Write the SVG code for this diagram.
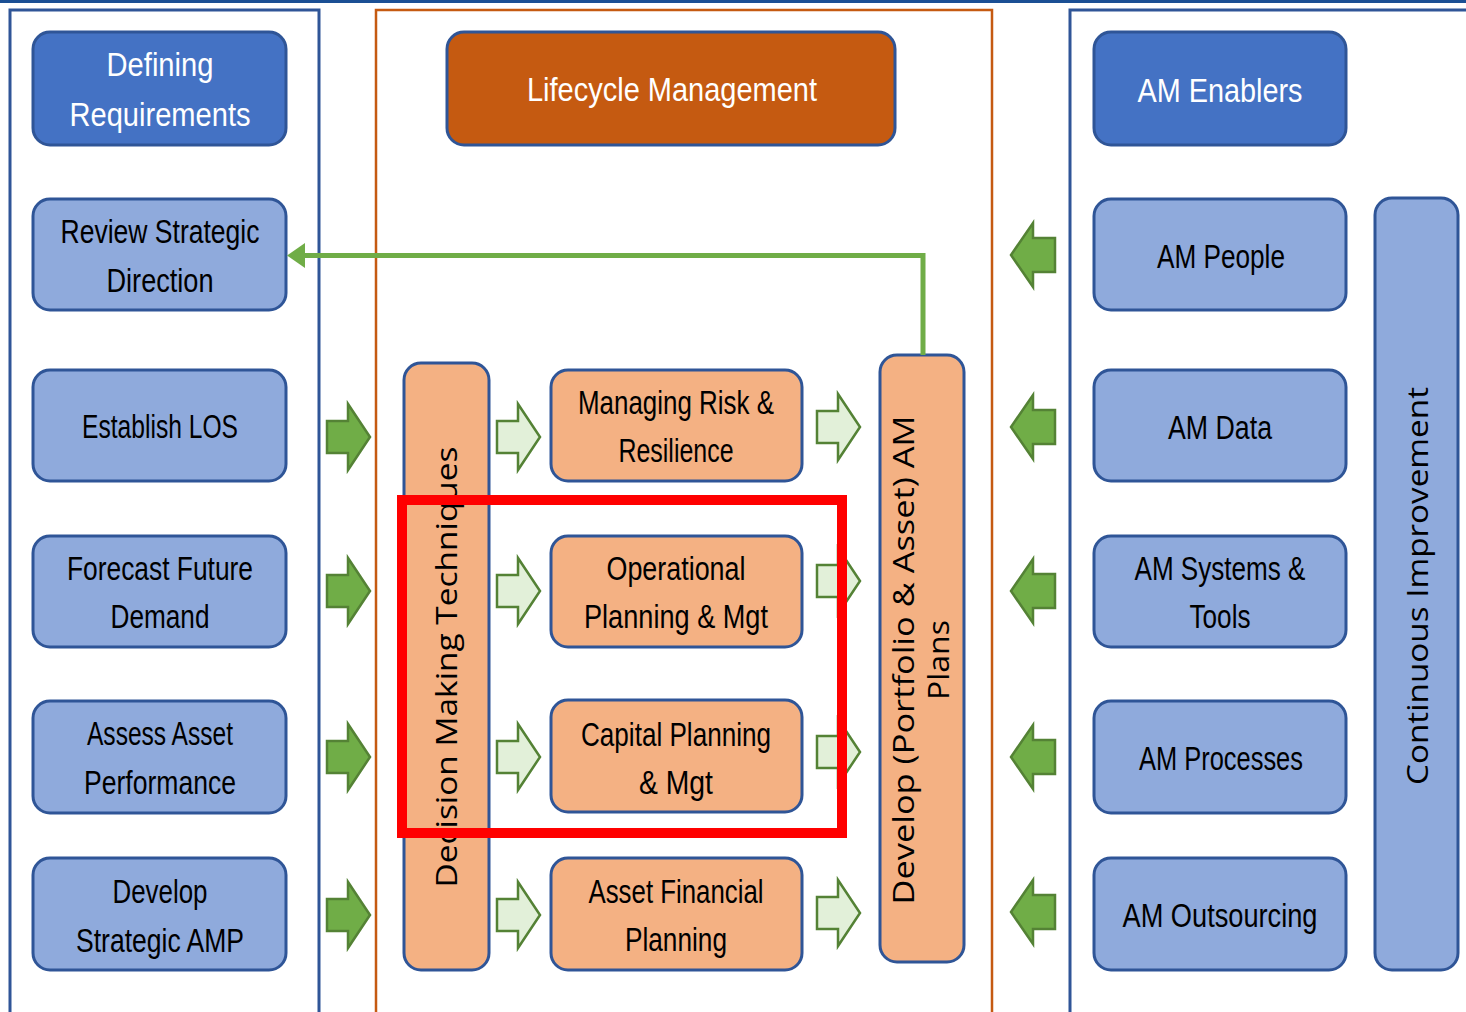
<svg xmlns="http://www.w3.org/2000/svg" width="1466" height="1012" viewBox="0 0 1466 1012">
<style>
.panelB{fill:none;stroke:#2F5597;stroke-width:3}
.panelO{fill:none;stroke:#C55A11;stroke-width:2.5}
.hdr{fill:#4472C4;stroke:#2F5597;stroke-width:3}
.lb{fill:#8FAADC;stroke:#2F5597;stroke-width:3}
.or{fill:#F4B183;stroke:#2F5597;stroke-width:3}
.dor{fill:#C55A11;stroke:#2F5597;stroke-width:3}
.t{font-family:"Liberation Sans",Arial,sans-serif;font-size:34px;text-anchor:middle;fill:#000}
.tw{fill:#fff}
.v{font-family:"Open Sans","Liberation Sans",sans-serif;font-size:30px;text-anchor:middle;fill:#000}
.ga{fill:#70AD47;stroke:#548235;stroke-width:2.5;stroke-linejoin:miter}
.la{fill:#E2F0D9;stroke:#548235;stroke-width:2.5;stroke-linejoin:miter}
</style>
<defs>
<path id="arR" d="M0,-16 H21 V-33 L43,0 L21,33 V16 H0 Z"/>
<path id="arL" d="M0,-17 H-22 V-32 L-44,0 L-22,32 V17 H0 Z"/>
</defs>
<rect x="0" y="0" width="1466" height="1012" fill="#fff"/>
<rect x="0" y="0" width="1466" height="3" fill="#1B4F94"/>
<g id="panels">
<path class="panelB" d="M10,1014 V10 H319 V1014"/>
<path class="panelO" d="M376,1014 V10 H992 V1014"/>
<path class="panelB" d="M1070,1014 V10 H1470"/>
</g>
<g id="defining-requirements"><rect class="hdr" x="33" y="32" width="253" height="113" rx="17"/>
<text class="t tw" x="160" y="76" textLength="107" lengthAdjust="spacingAndGlyphs">Defining</text>
<text class="t tw" x="160" y="126" textLength="181" lengthAdjust="spacingAndGlyphs">Requirements</text></g>
<g id="review-strategic-direction"><rect class="lb" x="33" y="199" width="253" height="111" rx="17"/>
<text class="t" x="160" y="243" textLength="199" lengthAdjust="spacingAndGlyphs">Review Strategic</text>
<text class="t" x="160" y="292" textLength="107" lengthAdjust="spacingAndGlyphs">Direction</text></g>
<g id="establish-los"><rect class="lb" x="33" y="370" width="253" height="111" rx="17"/>
<text class="t" x="160" y="438" textLength="156" lengthAdjust="spacingAndGlyphs">Establish LOS</text></g>
<g id="forecast-future-demand"><rect class="lb" x="33" y="536" width="253" height="111" rx="17"/>
<text class="t" x="160" y="580" textLength="186" lengthAdjust="spacingAndGlyphs">Forecast Future</text>
<text class="t" x="160" y="628" textLength="99" lengthAdjust="spacingAndGlyphs">Demand</text></g>
<g id="assess-asset-performance"><rect class="lb" x="33" y="701" width="253" height="112" rx="17"/>
<text class="t" x="160" y="745" textLength="146" lengthAdjust="spacingAndGlyphs">Assess Asset</text>
<text class="t" x="160" y="794" textLength="152" lengthAdjust="spacingAndGlyphs">Performance</text></g>
<g id="develop-strategic-amp"><rect class="lb" x="33" y="858" width="253" height="112" rx="17"/>
<text class="t" x="160" y="903" textLength="95" lengthAdjust="spacingAndGlyphs">Develop</text>
<text class="t" x="160" y="952" textLength="168" lengthAdjust="spacingAndGlyphs">Strategic AMP</text></g>

<g id="lifecycle-management"><rect class="dor" x="447" y="32" width="448" height="113" rx="17"/>
<text class="t tw" x="672" y="101" textLength="290" lengthAdjust="spacingAndGlyphs">Lifecycle Management</text></g>
<g id="decision-making-techniques"><rect class="or" x="404" y="363" width="85" height="607" rx="17"/>
<text class="v" transform="translate(457,667) rotate(-90)" textLength="441" lengthAdjust="spacingAndGlyphs">Decision Making Techniques</text></g>
<g id="managing-risk"><rect class="or" x="551" y="370" width="251" height="111" rx="17"/>
<text class="t" x="676" y="414" textLength="196" lengthAdjust="spacingAndGlyphs">Managing Risk &amp;</text>
<text class="t" x="676" y="462" textLength="115" lengthAdjust="spacingAndGlyphs">Resilience</text></g>
<g id="operational-planning"><rect class="or" x="551" y="536" width="251" height="111" rx="17"/>
<text class="t" x="676" y="580" textLength="139" lengthAdjust="spacingAndGlyphs">Operational</text>
<text class="t" x="676" y="628" textLength="184" lengthAdjust="spacingAndGlyphs">Planning &amp; Mgt</text></g>
<g id="capital-planning"><rect class="or" x="551" y="700" width="251" height="112" rx="17"/>
<text class="t" x="676" y="746" textLength="190" lengthAdjust="spacingAndGlyphs">Capital Planning</text>
<text class="t" x="676" y="794" textLength="74" lengthAdjust="spacingAndGlyphs">&amp; Mgt</text></g>
<g id="asset-financial-planning"><rect class="or" x="551" y="858" width="251" height="112" rx="17"/>
<text class="t" x="676" y="903" textLength="175" lengthAdjust="spacingAndGlyphs">Asset Financial</text>
<text class="t" x="676" y="951" textLength="102" lengthAdjust="spacingAndGlyphs">Planning</text></g>
<g id="develop-am-plans"><rect class="or" x="880" y="355" width="84" height="607" rx="17"/>
<text class="v" transform="translate(914,660) rotate(-90)" textLength="489" lengthAdjust="spacingAndGlyphs">Develop (Portfolio &amp; Asset) AM</text>
<text class="v" transform="translate(949,660) rotate(-90)" textLength="80" lengthAdjust="spacingAndGlyphs">Plans</text></g>

<g id="am-enablers"><rect class="hdr" x="1094" y="32" width="252" height="113" rx="17"/>
<text class="t tw" x="1220" y="102" textLength="165" lengthAdjust="spacingAndGlyphs">AM Enablers</text></g>
<g id="am-people"><rect class="lb" x="1094" y="199" width="252" height="111" rx="17"/>
<text class="t" x="1221" y="268" textLength="128" lengthAdjust="spacingAndGlyphs">AM People</text></g>
<g id="am-data"><rect class="lb" x="1094" y="370" width="252" height="111" rx="17"/>
<text class="t" x="1220" y="439" textLength="104" lengthAdjust="spacingAndGlyphs">AM Data</text></g>
<g id="am-systems-tools"><rect class="lb" x="1094" y="536" width="252" height="111" rx="17"/>
<text class="t" x="1220" y="580" textLength="171" lengthAdjust="spacingAndGlyphs">AM Systems &amp;</text>
<text class="t" x="1220" y="628" textLength="61" lengthAdjust="spacingAndGlyphs">Tools</text></g>
<g id="am-processes"><rect class="lb" x="1094" y="701" width="252" height="112" rx="17"/>
<text class="t" x="1221" y="770" textLength="164" lengthAdjust="spacingAndGlyphs">AM Processes</text></g>
<g id="am-outsourcing"><rect class="lb" x="1094" y="858" width="252" height="112" rx="17"/>
<text class="t" x="1220" y="927" textLength="195" lengthAdjust="spacingAndGlyphs">AM Outsourcing</text></g>
<g id="continuous-improvement"><rect class="lb" x="1375" y="198" width="83" height="772" rx="17"/>
<text class="v" transform="translate(1428,586) rotate(-90)" textLength="398" lengthAdjust="spacingAndGlyphs">Continuous Improvement</text></g>

<g id="connectors">
<use href="#arR" class="ga" x="327" y="437"/>
<use href="#arR" class="ga" x="327" y="591"/>
<use href="#arR" class="ga" x="327" y="757"/>
<use href="#arR" class="ga" x="327" y="915"/>
<use href="#arR" class="la" x="497" y="437"/>
<use href="#arR" class="la" x="497" y="591"/>
<use href="#arR" class="la" x="497" y="757"/>
<use href="#arR" class="la" x="497" y="915"/>
<use href="#arR" class="la" x="817" y="427"/>
<use href="#arR" class="la" x="817" y="581"/>
<use href="#arR" class="la" x="817" y="752"/>
<use href="#arR" class="la" x="817" y="913"/>
<use href="#arL" class="ga" x="1055" y="255"/>
<use href="#arL" class="ga" x="1055" y="427"/>
<use href="#arL" class="ga" x="1055" y="591"/>
<use href="#arL" class="ga" x="1055" y="757"/>
<use href="#arL" class="ga" x="1055" y="912"/>
<path d="M923,355 V255.5 H302" fill="none" stroke="#70AD47" stroke-width="5"/>
<path d="M287,255.5 L305,243 V268 Z" fill="#70AD47"/>
</g>
<rect x="402" y="500" width="440" height="333" fill="none" stroke="#FF0000" stroke-width="10"/>
</svg>
